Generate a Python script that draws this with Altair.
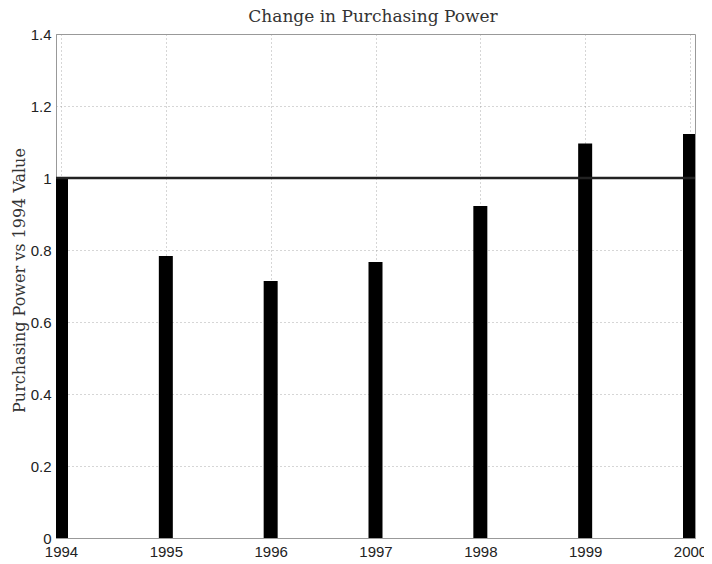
import altair as alt
import pandas as pd

years = [1994, 1995, 1996, 1997, 1998, 1999, 2000]
power = [1.0, 0.783, 0.714, 0.767, 0.922, 1.096, 1.122]
reference = [1.0]
y_ticks = [0, 0.2, 0.4, 0.6, 0.8, 1.0, 1.2, 1.4]
title_text = ["Change in Purchasing Power"]

df = pd.DataFrame({"year": years, "power": power})
ref_df = pd.DataFrame({"ref": reference})
title_df = pd.DataFrame({"t": title_text})

x_enc = alt.X(
    "year:Q",
    scale=alt.Scale(domain=[1994, 2000], nice=False, zero=False),
    axis=alt.Axis(values=years, format="d", title=None, ticks=False,
                  labelPadding=6, labelFontSize=15, labelFont="Liberation Sans",
                  labelColor="#222", grid=True, gridDash=[1, 3], gridColor="#999",
                  gridOpacity=0.8, domainColor="#999", labelFlush=False),
)

bars = alt.Chart(df).mark_bar(size=14, color="black", clip=True).encode(
    x=x_enc,
    y=alt.Y(
        "power:Q",
        scale=alt.Scale(domain=[0, 1.4], nice=False),
        axis=alt.Axis(values=y_ticks, format="~g", ticks=False, labelPadding=5,
                      labelFontSize=15, labelFont="Liberation Sans", labelColor="#222",
                      grid=True, gridDash=[1, 3], gridColor="#999", gridOpacity=0.8,
                      domainColor="#999",
                      title="Purchasing Power vs 1994 Value", titleFont="DejaVu Serif",
                      titleFontSize=16, titleFontWeight="normal", titleColor="#333",
                      titleX=-32, titleY=246, titleAngle=270, titleAlign="center",
                      titleBaseline="alphabetic"),
    ),
)

rule = alt.Chart(ref_df).mark_rule(color="#222", strokeWidth=2.5).encode(
    y="ref:Q"
)

title = alt.Chart(title_df).mark_text(
    font="DejaVu Serif", fontSize=17, color="#333", align="center",
    baseline="alphabetic",
).encode(
    text="t:N",
    x=alt.value(317),
    y=alt.value(-12),
)

chart = (
    alt.layer(bars, rule, title)
    .properties(
        width=639,
        height=504,
        autosize=alt.AutoSizeParams(type="none"),
        padding={"left": 48, "top": 26, "right": 9, "bottom": 26},
    )
    .configure_view(stroke="#999", strokeWidth=1)
)

chart.save("out.html", embed_options={"renderer": "svg", "actions": False})
